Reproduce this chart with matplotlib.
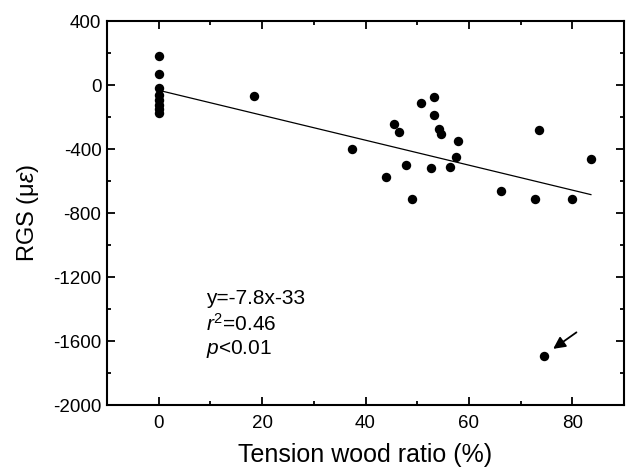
import matplotlib
matplotlib.use("Agg")
import matplotlib.pyplot as plt
from matplotlib.ticker import MultipleLocator
import numpy as np

plt.rcParams['font.family'] = ['Liberation Sans', 'DejaVu Sans']
plt.rcParams['mathtext.fontset'] = 'custom'
plt.rcParams['mathtext.rm'] = 'Liberation Sans'
plt.rcParams['mathtext.it'] = 'Liberation Sans:italic'
plt.rcParams['axes.unicode_minus'] = False

# Data: tension wood ratio (%) and RGS (microstrain)
tw_ratio = [0, 0, 0, 0, 0, 0, 0, 0,
            18.4, 37.3, 43.9, 45.6, 46.5, 47.8, 49.0, 50.7, 52.6, 53.3, 53.3,
            54.2, 54.6, 56.3, 57.5, 57.9, 66.2, 72.8, 73.5, 80.0, 83.6, 74.6]
rgs = [181, 69, -21, -65, -95, -125, -150, -178,
       -67, -402, -575, -246, -296, -500, -715, -115, -519, -77, -188,
       -275, -304, -510, -452, -350, -660, -710, -279, -712, -460, -1694]

slope = -7.8
intercept = -33
fit_x = [0, 83.6]
annot_lines = ["y=-7.8x-33", "$r^2$=0.46", "$p$<0.01"]
outlier = (74.6, -1694)

fig = plt.figure(figsize=(6.26, 4.71), dpi=100)
ax = fig.add_axes([107/626, 1 - 405/471, (624-107)/626, (405-21)/471])

ax.scatter(tw_ratio, rgs, s=46, color='black', zorder=3, linewidths=0)
fx = np.array(fit_x)
ax.plot(fx, slope * fx + intercept, color='black', lw=0.9)

ax.set_xlim(-10, 90)
ax.set_ylim(-2000, 400)
ax.xaxis.set_major_locator(MultipleLocator(20))
ax.xaxis.set_minor_locator(MultipleLocator(10))
ax.yaxis.set_major_locator(MultipleLocator(400))
ax.yaxis.set_minor_locator(MultipleLocator(200))
ax.tick_params(which='both', direction='in', top=True, right=True,
               labeltop=False, labelright=False, width=1.3)
ax.tick_params(which='major', length=6, labelsize=13.5)
ax.tick_params(axis='x', which='major', pad=7)
ax.tick_params(axis='y', which='major', pad=4)
ax.tick_params(which='minor', length=3)
for sp in ax.spines.values():
    sp.set_linewidth(1.5)

ax.set_xlabel("Tension wood ratio (%)", fontsize=18, labelpad=8)
ax.set_ylabel(r"RGS (μ$\varepsilon$)", fontsize=17, labelpad=9)

for i, t in enumerate(annot_lines):
    ax.text(9.2, -1200 - 156 * (i + 1) + 20, t, fontsize=15, va='center', ha='left')

ax.annotate("", xy=(outlier[0] + 1.7, outlier[1] + 45),
            xytext=(outlier[0] + 6.2, outlier[1] + 148),
            arrowprops=dict(arrowstyle='-|>', color='black', lw=1.3,
                            mutation_scale=18, shrinkA=0, shrinkB=0))

fig.savefig("out.png", dpi=100)
